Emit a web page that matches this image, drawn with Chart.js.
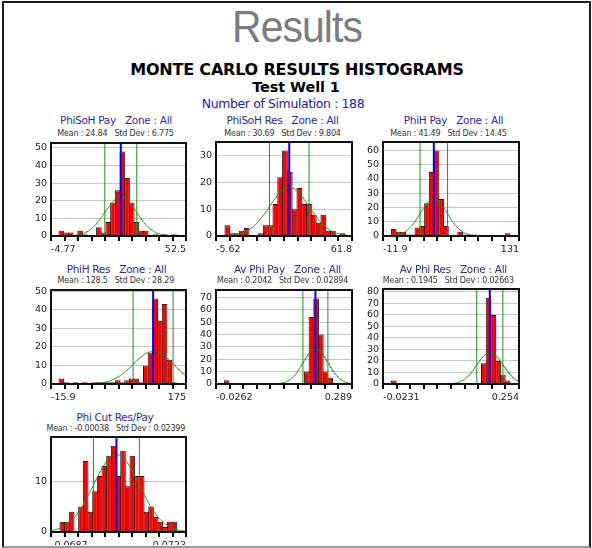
<!DOCTYPE html>
<html>
<head>
<meta charset="utf-8">
<title>Results</title>
<script src="https://cdn.jsdelivr.net/npm/chart.js@4.4.1/dist/chart.umd.min.js"></script>
<style>
  html, body { margin: 0; padding: 0; background: #fff; }
  #page { position: absolute; left: 0; top: 0; width: 592px; height: 545px; overflow: hidden; font-family: "DejaVu Sans", sans-serif; }
  #frame { position: absolute; left: 2px; top: 1px; width: 589px; height: 547px; box-sizing: border-box;
           border: 2px solid #1b1b1b; border-bottom: 2px solid #9a9a9a; pointer-events: none; }
  .t { position: absolute; white-space: pre; transform: translate(-50%, -50%); line-height: 1; }
  .big { font-family: "Liberation Sans", Arial, sans-serif; font-size: 44px; color: #7c7c80; letter-spacing: -1px;
         transform: translate(-50%, -50%) scaleX(0.93); }
  .h1 { font-weight: bold; font-size: 16px; color: #000; letter-spacing: -0.2px; }
  .h2 { font-weight: bold; font-size: 14.5px; color: #000; letter-spacing: -0.1px; }
  .h3 { font-size: 12.5px; color: #22229a; letter-spacing: -0.4px; }
  .pt { font-size: 10.5px; color: #2a2a9c; letter-spacing: -0.3px; }
  .pm { font-size: 8px; color: #333; letter-spacing: -0.2px; }
  canvas { position: absolute; }
</style>
</head>
<body>
<div id="page">
  <div class="t big" style="left:297px;top:27px">Results</div>
  <div class="t h1" style="left:297px;top:70px">MONTE CARLO RESULTS HISTOGRAMS</div>
  <div class="t h2" style="left:296px;top:87px">Test Well 1</div>
  <div class="t h3" id="nsim" style="left:283px;top:104px"></div>
</div>
<div id="frame"></div>
<script>
// Number of Monte Carlo runs behind every histogram
const simulations = 188;

// Each variable: counts per bin, axis end values, [mean, std dev], [first bin edge, bin width]
const phisohPayCounts = [3, 2, 2, 0, 3, 1, 0, 0, 5, 2, 8, 19, 26, 48, 33, 19, 8, 3, 3, 0, 1, 0, 1, 0, 1];
const phisohPayAxis   = [-4.77, 52.5];
const phisohPayStats  = [24.84, 6.775];
const phisohPayBins   = [-1.368, 1.990];

const phisohResCounts = [4, 1, 1, 2, 3, 0, 0, 1, 4, 4, 12, 22, 32, 24, 10, 18, 12, 12, 8, 5, 8, 2, 2, 0, 1];
const phisohResAxis   = [-5.62, 61.8];
const phisohResStats  = [30.69, 9.804];
const phisohResBins   = [-1.187, 2.380];

const phihPayCounts = [5, 3, 3, 1, 1, 6, 7, 23, 45, 60, 26, 7, 0, 0, 3, 1, 0, 1, 0, 0, 0, 0, 0, 0, 2];
const phihPayAxis   = [-11.9, 131];
const phihPayStats  = [41.49, 14.45];
const phihPayBins   = [-3.08, 4.982];

const phihResCounts = [3, 1, 0, 1, 0, 1, 0, 1, 1, 1, 1, 1, 2, 1, 2, 3, 3, 1, 10, 17, 46, 34, 43, 13, 1];
const phihResAxis   = [-15.9, 175];
const phihResStats  = [128.5, 28.29];
const phihResBins   = [-4.56, 6.634];

const avPhiPayCounts = [3, 0, 0, 0, 0, 0, 0, 0, 0, 0, 0, 0, 0, 0, 0, 0, 1, 10, 54, 69, 40, 10, 5, 1, 1];
const avPhiPayAxis   = [-0.0262, 0.289];
const avPhiPayStats  = [0.2042, 0.02894];
const avPhiPayBins   = [-0.00689, 0.01091];

const avPhiResCounts = [3, 0, 0, 0, 0, 0, 0, 0, 0, 0, 0, 0, 0, 0, 0, 0, 0, 0, 1, 18, 75, 60, 20, 8, 3];
const avPhiResAxis   = [-0.0231, 0.254];
const avPhiResStats  = [0.1945, 0.02663];
const avPhiResBins   = [-0.00599, 0.00966];

const phiCutCounts = [2, 2, 4, 0, 5, 14, 4, 8, 11, 13, 15, 17, 11, 16, 9, 15, 11, 11, 4, 5, 3, 2, 1, 2, 2];
const phiCutAxis   = [-0.0687, 0.0723];
const phiCutStats  = [-0.00038, 0.02399];
const phiCutBins   = [-0.05937, 0.00488];

const GREEN = '#1f8f1f';
const FONT = 'DejaVu Sans';

document.getElementById('nsim').textContent = 'Number of Simulation : ' + simulations;

// Panel layout: plot box (l, t, w, h) in page pixels, caption centres, and the
// x-axis tick from which the fitted normal curve is drawn
const panels = [
  { title: 'PhiSoH Pay   Zone : All', counts: phisohPayCounts, axis: phisohPayAxis, stats: phisohPayStats, bins: phisohPayBins,
    l: 51, t: 143, w: 135, h: 93, tx: 116, mx: 115.5, ty: 120, my: 133.5, fitFromTick: 0 },
  { title: 'PhiSoH Res   Zone : All', counts: phisohResCounts, axis: phisohResAxis, stats: phisohResStats, bins: phisohResBins,
    l: 216, t: 142, w: 136, h: 94, tx: 282.5, mx: 282.5, ty: 120, my: 133.5, fitFromTick: 0 },
  { title: 'PhiH Pay   Zone : All', counts: phihPayCounts, axis: phihPayAxis, stats: phihPayStats, bins: phihPayBins,
    l: 383, t: 142, w: 136, h: 94, tx: 453.5, mx: 448.5, ty: 120, my: 133.5, fitFromTick: 0 },
  { title: 'PhiH Res   Zone : All', counts: phihResCounts, axis: phihResAxis, stats: phihResStats, bins: phihResBins,
    l: 51, t: 290, w: 135, h: 94, tx: 116.5, mx: 115.8, ty: 268.5, my: 281.3, fitFromTick: 3 },
  { title: 'Av Phi Pay   Zone : All', counts: avPhiPayCounts, axis: avPhiPayAxis, stats: avPhiPayStats, bins: avPhiPayBins,
    l: 216, t: 290, w: 136, h: 94, tx: 287.5, mx: 282.5, ty: 268.5, my: 281.3, fitFromTick: 4 },
  { title: 'Av Phi Res   Zone : All', counts: avPhiResCounts, axis: avPhiResAxis, stats: avPhiResStats, bins: avPhiResBins,
    l: 383, t: 289, w: 136, h: 95, tx: 453.3, mx: 448.3, ty: 268.5, my: 281.3, fitFromTick: 5 },
  { title: 'Phi Cut Res/Pay', counts: phiCutCounts, axis: phiCutAxis, stats: phiCutStats, bins: phiCutBins,
    l: 51, t: 437, w: 135, h: 95, tx: 115, mx: 115.8, ty: 416.7, my: 429, fitFromTick: 0 }
];

// Black box around each plot area
const framePlugin = {
  id: 'plotFrame',
  afterDraw(chart) {
    const { ctx, chartArea: a } = chart;
    ctx.save();
    ctx.strokeStyle = '#111';
    ctx.lineWidth = 2;
    ctx.strokeRect(a.left, a.top, a.right - a.left, a.bottom - a.top);
    ctx.restore();
  }
};

const page = document.getElementById('page');

function addText(cls, x, y, text) {
  const d = document.createElement('div');
  d.className = 't ' + cls;
  d.style.left = x + 'px';
  d.style.top = y + 'px';
  d.textContent = text;
  page.appendChild(d);
}

function makePanel(p) {
  const [lo, hi] = p.axis;
  const [mean, sd] = p.stats;
  const [edge0, bw] = p.bins;
  const ymax = Math.max(...p.counts) * 1.1;

  addText('pt', p.tx, p.ty, p.title);
  addText('pm', p.mx, p.my, 'Mean : ' + mean + '   Std Dev : ' + sd);

  const padL = 36, padT = 10, padR = 8, padB = 22;
  const cv = document.createElement('canvas');
  const cw = p.w + padL + padR, ch = p.h + padT + padB;
  cv.width = cw; cv.height = ch;
  cv.style.width = cw + 'px'; cv.style.height = ch + 'px';
  cv.style.left = (p.l - padL) + 'px';
  cv.style.top = (p.t - padT) + 'px';
  page.appendChild(cv);

  const bars = p.counts.map((c, i) => ({ x: edge0 + (i + 0.5) * bw, y: c }));

  // Normal curve for the stated mean / std dev, scaled to counts per bin
  const fitFrom = lo + p.fitFromTick * (hi - lo) / 10;
  const curve = [];
  const steps = 120;
  for (let k = 0; k <= steps; k++) {
    const x = fitFrom + k * (hi - fitFrom) / steps;
    const z = (x - mean) / sd;
    curve.push({ x, y: simulations * bw / (sd * Math.sqrt(2 * Math.PI)) * Math.exp(-0.5 * z * z) });
  }

  const vline = (x) => [{ x, y: 0 }, { x, y: ymax }];

  new Chart(cv, {
    type: 'bar',
    data: {
      datasets: [
        { type: 'line', data: vline(mean), borderColor: '#0000ff', borderWidth: 2, pointRadius: 0, order: 0 },
        { type: 'line', data: vline(mean - sd), borderColor: GREEN, borderWidth: 1, pointRadius: 0, order: 1 },
        { type: 'line', data: vline(mean + sd), borderColor: GREEN, borderWidth: 1, pointRadius: 0, order: 1 },
        { type: 'line', data: curve, borderColor: GREEN, borderWidth: 1, pointRadius: 0, tension: 0, fill: false, order: 2 },
        { type: 'bar', data: bars, backgroundColor: '#ff0000', borderColor: '#1a1a1a', borderWidth: 1,
          borderSkipped: 'start', categoryPercentage: 1, barPercentage: 1.2, order: 3 }
      ]
    },
    options: {
      responsive: false,
      animation: false,
      devicePixelRatio: 1,
      layout: { padding: { top: padT, right: padR, left: 0, bottom: 0 } },
      plugins: { legend: { display: false }, tooltip: { enabled: false } },
      scales: {
        x: {
          type: 'linear', min: lo, max: hi, offset: false,
          afterBuildTicks: (s) => { s.ticks = Array.from({ length: 11 }, (_, k) => ({ value: lo + k * (hi - lo) / 10 })); },
          afterFit: (s) => { s.height = padB; },
          ticks: {
            autoSkip: false, maxRotation: 0, minRotation: 0, align: 'inner', padding: 3,
            color: '#222', font: { family: FONT, size: 9.5 },
            callback: (v, i) => (i === 0 ? String(lo) : (i === 10 ? String(hi) : ''))
          },
          grid: { offset: false, drawOnChartArea: false, drawTicks: true, tickLength: 5, color: '#000', lineWidth: 2 },
          border: { display: false }
        },
        y: {
          type: 'linear', min: 0, max: ymax,
          afterBuildTicks: (s) => { const t = []; for (let v = 0; v <= ymax; v += 10) t.push({ value: v }); s.ticks = t; },
          afterFit: (s) => { s.width = padL; },
          ticks: { autoSkip: false, padding: 4, color: '#222', font: { family: FONT, size: 9.5 } },
          grid: { color: '#c6c6c6', lineWidth: 1, drawTicks: false },
          border: { display: false }
        }
      }
    },
    plugins: [framePlugin]
  });
}

panels.forEach(makePanel);
</script>
</body>
</html>
